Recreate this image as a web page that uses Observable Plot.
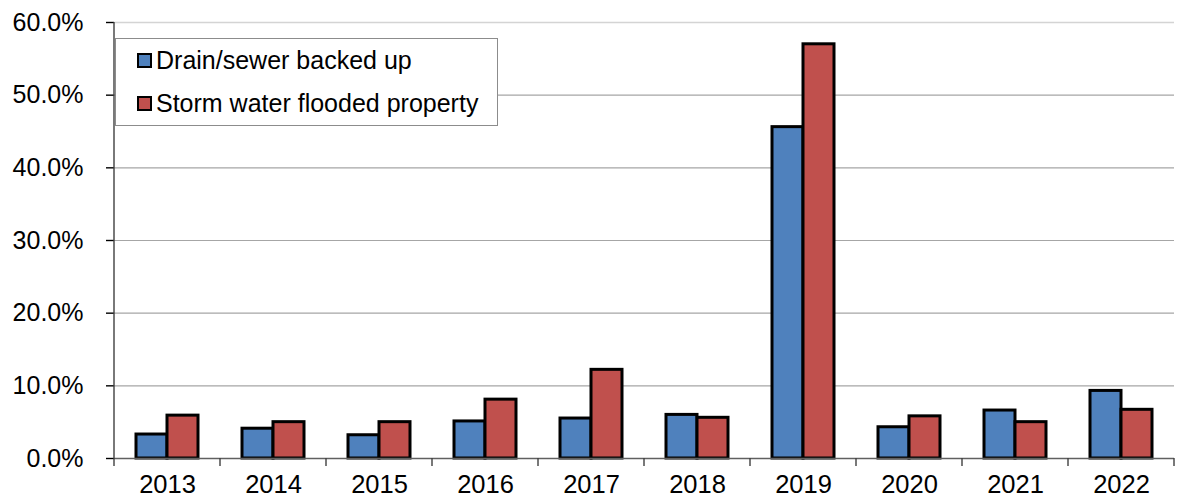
<!DOCTYPE html>
<html>
<head>
<meta charset="utf-8">
<script src="https://cdn.jsdelivr.net/npm/d3@7"></script>
<script src="https://cdn.jsdelivr.net/npm/@observablehq/plot@0.6"></script>
<style>
  html, body { margin: 0; padding: 0; background: #fff; }
  #wrap { position: relative; width: 1177px; height: 500px; font-family: "Liberation Sans", Arial, sans-serif; }
  #legend { position: absolute; left: 115px; top: 38px; width: 381px; height: 86px; border: 1px solid #8c8c8c; background: #fff; box-sizing: content-box; }
  .item { position: absolute; left: 21px; display: flex; align-items: center; font-size: 25px; color: #000; white-space: nowrap; }
  .sw { width: 11px; height: 11px; border: 2px solid #000; margin-right: 4px; }
</style>
</head>
<body>
<div id="wrap"></div>
<script>
const years = ["2013","2014","2015","2016","2017","2018","2019","2020","2021","2022"];
const seriesNames = ["Drain/sewer backed up", "Storm water flooded property"];
const seriesColors = ["#4F81BD", "#C0504D"];
const drainValues = [3.3, 4.1, 3.2, 5.1, 5.5, 6.0, 45.6, 4.3, 6.6, 9.3];
const stormValues = [5.9, 5.0, 5.0, 8.1, 12.2, 5.6, 57.0, 5.8, 5.0, 6.7];
const yTicks = [0, 10, 20, 30, 40, 50, 60];

const data = [];
years.forEach((y, i) => {
  data.push({year: y, series: seriesNames[0], value: drainValues[i]});
  data.push({year: y, series: seriesNames[1], value: stormValues[i]});
});

const chart = Plot.plot({
  width: 1177,
  height: 500,
  marginLeft: 110,
  marginRight: 0,
  marginTop: 22,
  marginBottom: 42,
  style: {fontFamily: "'Liberation Sans', Arial, sans-serif", fontSize: "25px", color: "#000", background: "#fff", overflow: "visible"},
  fx: {domain: years, padding: 0, label: null, axis: null},
  x: {domain: seriesNames, paddingInner: 0, paddingOuter: 0.7, axis: null},
  y: {domain: [0, 60], ticks: yTicks, tickFormat: d => d.toFixed(1) + "%", tickSize: 8, tickPadding: 23, label: null},
  color: {domain: seriesNames, range: seriesColors},
  marks: [
    Plot.ruleY(yTicks.filter(d => d > 0 && d < 60), {stroke: "#a6a6a6", strokeWidth: 1.2}),
    Plot.ruleY([60], {stroke: "#d4d4d4", strokeWidth: 1.5}),
    Plot.barY(data, {fx: "year", x: "series", y: "value", fill: "series", stroke: "#000", strokeWidth: 3}),
    Plot.ruleY([0], {stroke: "#606060", strokeWidth: 1.5}),
    Plot.axisFx({domain: years, anchor: "bottom", tickSize: 0, tickPadding: 16, label: null})
  ]
});

document.getElementById("wrap").appendChild(chart);

// category boundary ticks and vertical axis line drawn from Plot's own scales
const svg = d3.select(chart);
const fx = chart.scale("fx");
const yS = chart.scale("y");
const y0 = yS.apply(0), yTop = yS.apply(60);
const bounds = years.map(y => fx.apply(y));
bounds.push(fx.apply(years[years.length - 1]) + fx.step);
const g = svg.append("g").attr("stroke", "#404040").attr("stroke-width", 1.4);
bounds.forEach((bx, i) => {
  g.append("line").attr("x1", bx).attr("x2", bx).attr("y1", i === 0 ? yTop : y0).attr("y2", y0 + 8);
});
svg.selectAll("[aria-label='y-axis tick']").attr("stroke", "#404040");
svg.selectAll("[aria-label='y-axis tick'] path").attr("stroke-width", 1.4);
svg.selectAll("[aria-label='fx-axis tick label']").attr("font-size", 25.5);

// legend
const legend = document.createElement("div");
legend.id = "legend";
seriesNames.forEach((name, i) => {
  const it = document.createElement("div");
  it.className = "item";
  it.style.top = (i === 0 ? 7 : 50) + "px";
  const sw = document.createElement("span");
  sw.className = "sw";
  sw.style.background = seriesColors[i];
  it.appendChild(sw);
  it.appendChild(document.createTextNode(name));
  legend.appendChild(it);
});
document.getElementById("wrap").appendChild(legend);
</script>
</body>
</html>
